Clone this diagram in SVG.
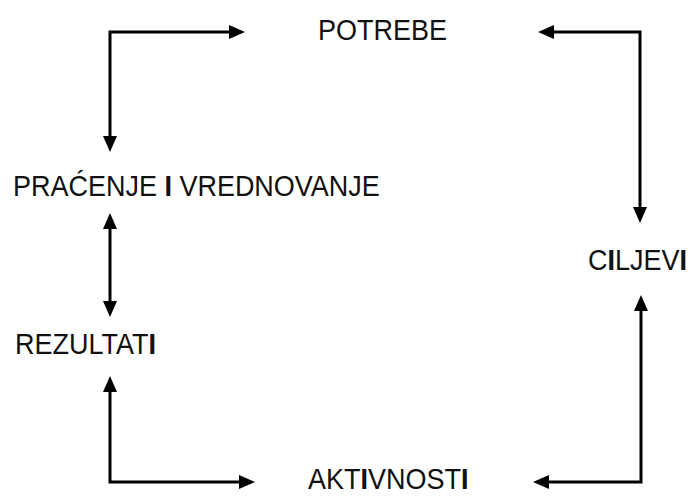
<svg xmlns="http://www.w3.org/2000/svg" width="690" height="496" viewBox="0 0 690 496">
  <style>
    .lbl { font-family: "Liberation Sans", Arial, sans-serif; font-size: 30px; fill: #111; }
    .b { font-weight: bold; }
    .con { fill: none; stroke: #000; stroke-width: 3; stroke-linejoin: miter; marker-start: url(#ah); marker-end: url(#ah); }
  </style>
  <defs>
    <marker id="ah" viewBox="0 0 16 14" markerWidth="16" markerHeight="14" markerUnits="userSpaceOnUse" refX="0" refY="7" orient="auto-start-reverse">
      <path d="M0,0 L16,7 L0,14 z" fill="#000"/>
    </marker>
  </defs>
  <rect width="690" height="496" fill="#fff"/>
  <g id="connectors">
    <path class="con" d="M110,136 V32 H229"/>
    <path class="con" d="M554,32 H640 V207"/>
    <path class="con" d="M110,229 V301"/>
    <path class="con" d="M110,392 V482 H239"/>
    <path class="con" d="M549,482 H641 V311"/>
  </g>
  <g id="potrebe">
    <text class="lbl" transform="translate(318,40) scale(0.9,1)">POTREBE</text>
  </g>
  <g id="pracenje">
    <text class="lbl" transform="translate(13,196) scale(0.9,1)">PRAĆENJE <tspan class="b">I</tspan> VREDNOVANJE</text>
  </g>
  <g id="rezultati">
    <text class="lbl" transform="translate(15,354) scale(0.9,1)">REZULTAT<tspan class="b">I</tspan></text>
  </g>
  <g id="ciljevi">
    <text class="lbl" transform="translate(588,270) scale(0.9,1)">C<tspan class="b">I</tspan>LJEV<tspan class="b">I</tspan></text>
  </g>
  <g id="aktivnosti">
    <text class="lbl" transform="translate(308,489) scale(0.9,1)">AKT<tspan class="b">I</tspan>VNOST<tspan class="b">I</tspan></text>
  </g>
</svg>
